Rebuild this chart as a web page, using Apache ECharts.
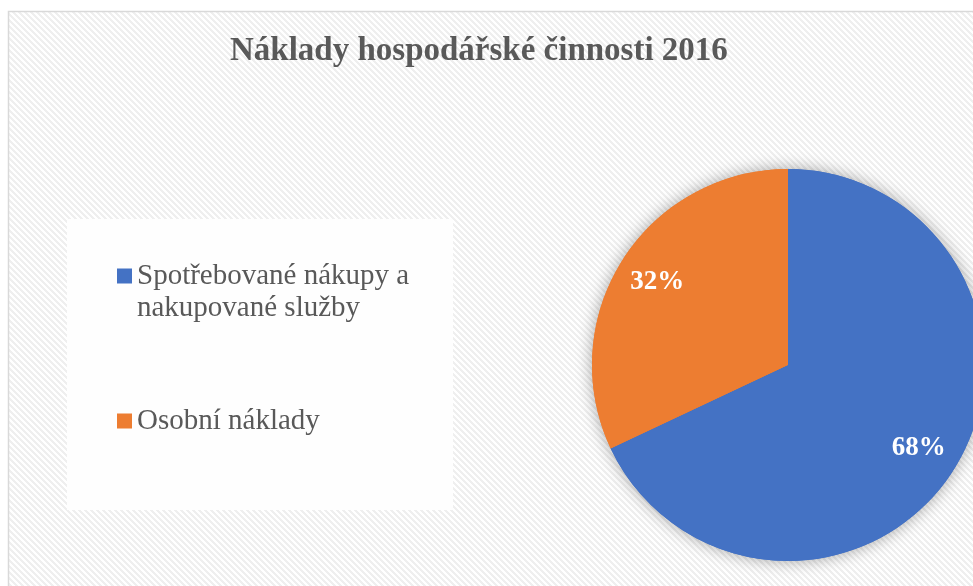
<!DOCTYPE html>
<html>
<head>
<meta charset="utf-8">
<script src="https://cdn.jsdelivr.net/npm/echarts@6/dist/echarts.min.js"></script>
<style>
  html, body { margin: 0; padding: 0; background: #fff; }
  #chart { width: 973px; height: 586px; }
</style>
</head>
<body>
<div id="chart"></div>
<script>
// data
var titleText = 'Náklady hospodářské činnosti 2016';
var categories = ['Spotřebované nákupy a\nnakupované služby', 'Osobní náklady'];
var values = [68, 32];
var colors = ['#4472C4', '#ED7D31'];

// striped background tile (diagonal hatching)
function makeStripes() {
  var c = document.createElement('canvas');
  c.width = 6; c.height = 6;
  var ctx = c.getContext('2d');
  ctx.fillStyle = '#ffffff';
  ctx.fillRect(0, 0, 6, 6);
  ctx.fillStyle = '#efefef';
  for (var y = 0; y < 6; y++) {
    for (var x = 0; x < 6; x++) {
      if (((x - y) % 6 + 6) % 6 < 3) ctx.fillRect(x, y, 1, 1);
    }
  }
  return c;
}

var chart = echarts.init(document.getElementById('chart'));

var pieData = categories.map(function (name, i) {
  return { name: name, value: values[i], itemStyle: { color: colors[i] } };
});

var serif = '"Liberation Serif", "Times New Roman", serif';

var option = {
  backgroundColor: '#ffffff',
  animation: false,
  graphic: [
    {
      type: 'rect', z: -10, silent: true,
      shape: { x: 8.5, y: 11.5, width: 1000, height: 600 },
      style: { fill: { image: makeStripes(), repeat: 'repeat' }, stroke: '#d9d9d9', lineWidth: 1.5 }
    },
    {
      type: 'rect', z: -9, silent: true,
      shape: { x: 67, y: 219, width: 386, height: 291 },
      style: { fill: '#fefefe' }
    }
  ],
  title: {
    text: titleText,
    left: 230,
    top: 35,
    padding: 0,
    textStyle: { fontFamily: serif, fontSize: 33, fontWeight: 'bold', color: '#595959' }
  },
  legend: {
    orient: 'vertical',
    left: 117,
    top: 228,
    padding: 0,
    itemGap: 81,
    itemWidth: 15,
    itemHeight: 15,
    icon: 'rect',
    selectedMode: false,
    // blank first line keeps the square level with the first text line
    formatter: function (name) {
      return name.indexOf('\n') >= 0 ? '\n' + name : name;
    },
    data: [
      { name: categories[0], itemStyle: { color: colors[0] } },
      { name: categories[1], itemStyle: { color: colors[1] } }
    ],
    textStyle: { fontFamily: serif, fontSize: 29, lineHeight: 32, color: '#595959' }
  },
  series: [
    {
      // base with soft shadow
      type: 'pie', center: [788, 365], radius: 196, silent: true,
      label: { show: false }, labelLine: { show: false },
      itemStyle: { borderWidth: 0, shadowBlur: 16, shadowColor: 'rgba(0,0,0,0.35)' },
      data: pieData
    },
    {
      type: 'pie', center: [788, 365], radius: 196, silent: true,
      label: { show: false }, labelLine: { show: false },
      itemStyle: { borderWidth: 0 },
      data: pieData
    },
    {
      // label ring, transparent
      type: 'pie', center: [788, 365], radius: [108, 196], silent: true,
      itemStyle: { color: 'rgba(0,0,0,0)', borderWidth: 0 },
      label: {
        show: true, position: 'inside', formatter: '{d}%',
        fontFamily: serif, fontSize: 27, fontWeight: 'bold', color: '#ffffff'
      },
      labelLine: { show: false },
      data: categories.map(function (name, i) { return { name: name, value: values[i] }; })
    }
  ]
};

chart.setOption(option);
</script>
</body>
</html>
